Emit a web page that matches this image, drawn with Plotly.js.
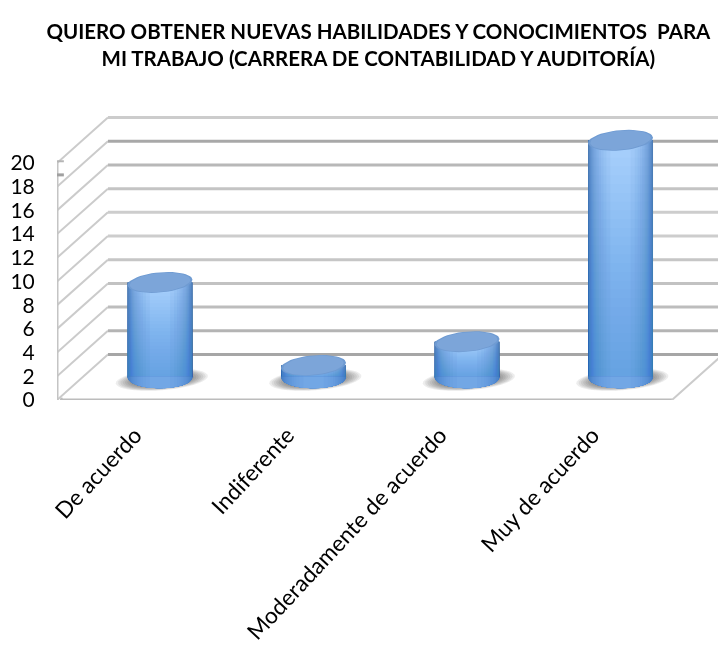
<!DOCTYPE html>
<html>
<head>
<meta charset="utf-8">
<script src="https://cdn.plot.ly/plotly-3.0.1.min.js"></script>
<style>
html,body{margin:0;padding:0;background:#fff;overflow:hidden}
#chart{width:718px;height:649px;filter:blur(0.6px)}
</style>
</head>
<body>
<div id="chart"></div>
<script>
const categories = ["De acuerdo", "Indiferente", "Moderadamente de acuerdo", "Muy de acuerdo"];
const values = [8, 1, 3, 20];
const yTicks = [0, 2, 4, 6, 8, 10, 12, 14, 16, 18, 20];
const gridColors = ["#a6a6a6", "#b4b4b4", "#bdbdbd", "#c2c2c2", "#c6c6c6", "#cdcdcd", "#cdcdcd", "#c4c4c4", "#b8b8b8", "#a8a8a8", "#cccccc"];
const titleText = "QUIERO OBTENER NUEVAS HABILIDADES Y CONOCIMIENTOS  PARA<br>MI TRABAJO (CARRERA DE CONTABILIDAD Y AUDITORÍA)";

const FONT = "Lato, Carlito, sans-serif";
const xRange = [-0.5115, 3.823], x2Range = [-0.671, 3.635], yRange = [0, 25.32];
const depthX = 0.334, depthY = 3.84, floorEnd = 3.521;
const barBase = depthY / 2, semiA = 0.2117, semiB = 0.93, tilt = 0.22;
const shadeRGB = [55, 122, 205], shadeAlpha = 0.025, shadeSteps = 26;

function mix(a, b, t) { return a.map((v, i) => Math.round(v + (b[i] - v) * t)); }
function rgb(c) { return "rgb(" + c.join(",") + ")"; }
const stops = [[66, 112, 168], [92, 140, 200], [128, 172, 228], [168, 208, 252]];
function ramp(t) {
  const p = t * (stops.length - 1), i = Math.min(Math.floor(p), stops.length - 2);
  return mix(stops[i], stops[i + 1], p - i);
}
const layers = [];
const N = 20;
for (let k = 0; k < N; k++) {
  const w = Math.sqrt(1 - Math.pow(k / N, 2));
  layers.push({ w, color: ramp(k / (N - 1)) });
}

const traces = [];
const idx = categories.map((_, i) => i);
traces.push({ x: idx, y: idx.map(() => 0), xaxis: "x", yaxis: "y", mode: "none", type: "scatter", hoverinfo: "skip" });
const bases = values.map(() => barBase);

layers.forEach(l => {
  traces.push({ type: "bar", x: idx, y: values, base: bases, width: idx.map(() => 2 * semiA * l.w),
    xaxis: "x2", yaxis: "y", marker: { color: rgb(l.color), line: { width: 0 } }, hoverinfo: "skip" });
});
for (let f = 1; f <= shadeSteps; f++) {
  traces.push({ type: "bar", x: idx, y: values.map(v => v * f / (shadeSteps + 1)), base: bases, width: idx.map(() => 2 * semiA),
    xaxis: "x2", yaxis: "y", marker: { color: "rgba(" + shadeRGB.join(",") + "," + shadeAlpha + ")", line: { width: 0 } }, hoverinfo: "skip" });
}
const baseMix = 1 - Math.pow(1 - shadeAlpha, shadeSteps);
layers.forEach(l => {
  const xs = [], ys = [];
  idx.forEach(i => {
    const hw = semiA * l.w;
    xs.push(i - hw); ys.push(barBase + 0.05);
    for (let s = 0; s <= 20; s++) {
      const x = -hw + 2 * hw * s / 20;
      xs.push(i + x); ys.push(barBase - semiB * Math.sqrt(Math.max(0, 1 - Math.pow(x / semiA, 2))));
    }
    xs.push(i + hw); ys.push(barBase + 0.05);
    xs.push(null); ys.push(null);
  });
  traces.push({ type: "scatter", mode: "lines", x: xs, y: ys, fill: "toself", fillcolor: rgb(mix(l.color, shadeRGB, baseMix)),
    line: { width: 0 }, xaxis: "x2", yaxis: "y", hoverinfo: "skip" });
});
[[1, "#6f9bd2"], [0.93, "#7ca5d9"]].forEach(([sc, col]) => {
  const xs = [], ys = [];
  idx.forEach(i => {
    const top = barBase + values[i];
    for (let s = 0; s <= 48; s++) {
      const t = 2 * Math.PI * s / 48;
      xs.push(i + sc * semiA * Math.cos(t));
      ys.push(top + sc * semiB * 0.92 * Math.sin(t) + tilt * Math.cos(t));
    }
    xs.push(null); ys.push(null);
  });
  traces.push({ type: "scatter", mode: "lines", x: xs, y: ys, fill: "toself", fillcolor: col, line: { width: 0 },
    xaxis: "x2", yaxis: "y", hoverinfo: "skip" });
});

const shapes = [];
function seg(x0, y0, x1, y1, color, width) {
  shapes.push({ type: "line", layer: "below", xref: "x", yref: "y", x0, y0, x1, y1, line: { color, width } });
}
const xL = xRange[0], xB = xL + depthX;
yTicks.forEach((v, i) => {
  seg(xL, v, xB, v + depthY, "#cbcbcb", 2);
  seg(xB, v + depthY, xRange[1], v + depthY, gridColors[i], 3);
});
seg(xL + 0.02, 0, floorEnd, 0, "#bcbcbc", 3);
seg(floorEnd, 0, floorEnd + depthX, depthY, "#cbcbcb", 2);
seg(xL, -0.2, xL, 20.1, "#c4c4c4", 3);
seg(xL - 0.04, 20.15, xL + 0.045, 20.15, "#b5b5b5", 2);
seg(xL - 0.045, 19, xL + 0.045, 19, "#a0a0a0", 3);
seg(xL + 0.03, -0.25, xL + 0.03, 0.2, "#bdbdbd", 2);

idx.forEach(i => {
  for (let s = 0; s < 11; s++) {
    const k = 1 - s * 0.05;
    const cx = i + 0.012, cy = barBase - 0.2;
    let p = "";
    for (let q = 0; q < 40; q++) {
      const t = 2 * Math.PI * q / 40;
      const px = cx + 0.3 * k * Math.cos(t);
      const py = cy + 0.9 * k * Math.sin(t) + 0.3 * k * Math.cos(t);
      p += (q ? "L" : "M") + px.toFixed(4) + "," + py.toFixed(4);
    }
    shapes.push({ type: "path", path: p + "Z", layer: "below", xref: "x2", yref: "y",
      fillcolor: "rgba(45,45,45,0.085)", line: { width: 0 } });
  }
});

const layout = {
  width: 718, height: 649,
  margin: { l: 57, r: 0, t: 100, b: 249, pad: 0 },
  paper_bgcolor: "#fff", plot_bgcolor: "#fff",
  showlegend: false, barmode: "overlay",
  title: { text: titleText, x: 0.527, xanchor: "center", y: 0.94, yanchor: "top",
    font: { family: FONT, size: 20.5, color: "#000", weight: 700 } },
  xaxis: { range: xRange, tickmode: "array", tickvals: idx, ticktext: categories, tickangle: -47,
    ticklen: 12, tickcolor: "rgba(0,0,0,0)", showgrid: false, zeroline: false, showline: false,
    tickfont: { family: FONT, size: 22.6, color: "#000" } },
  xaxis2: { range: x2Range, overlaying: "x", anchor: "y", visible: false, showgrid: false, zeroline: false },
  yaxis: { range: yRange, tickmode: "array", tickvals: yTicks, ticklen: 17, tickcolor: "rgba(0,0,0,0)",
    showgrid: false, zeroline: false, showline: false,
    tickfont: { family: FONT, size: 21, color: "#000" } },
  shapes
};
Plotly.newPlot("chart", traces, layout, { displayModeBar: false, staticPlot: true });
</script>
</body>
</html>
